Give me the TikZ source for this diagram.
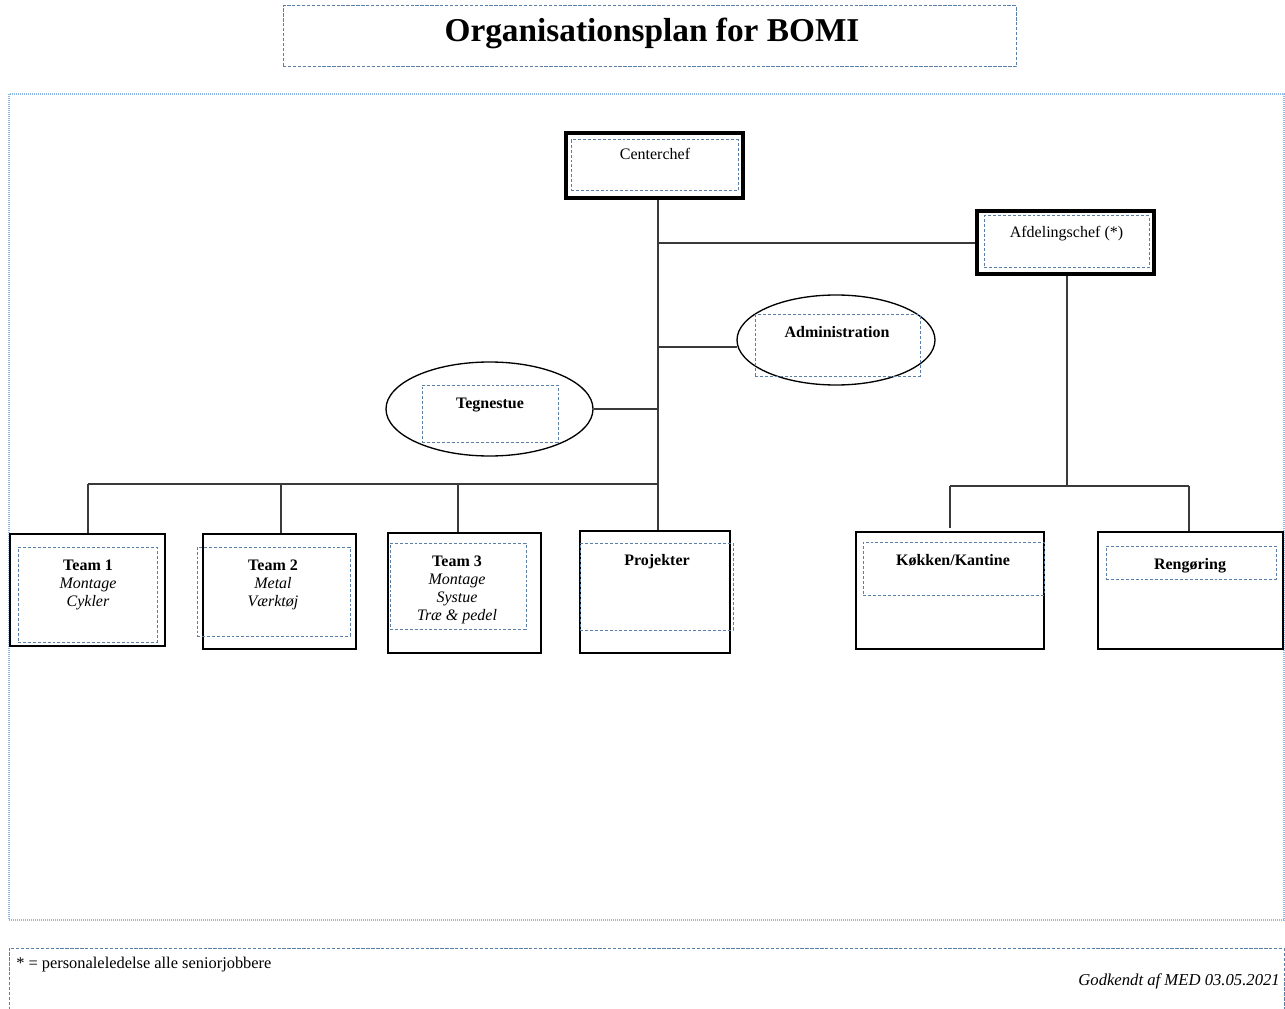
\documentclass[tikz,border=0pt]{standalone}
\usepackage{fontspec}
\setmainfont{Liberation Serif}
\usetikzlibrary{shapes.geometric}
\definecolor{dashblue}{HTML}{5B7EA6}
\definecolor{dotblue}{HTML}{8DB8E6}
\definecolor{linegray}{HTML}{3A3A3A}
\tikzset{
  sz/.style 2 args={minimum width=#1*0.75pt,minimum height=#2*0.75pt},
  box/.style={draw=black,line width=1.2pt,rectangle,inner sep=0pt},
  chiefbox/.style={draw=black,line width=3pt,rectangle,inner sep=0pt},
  inbox/.style={draw=dashblue,line width=0.75pt,dash pattern=on 2.2pt off 1.5pt,rectangle,inner sep=0pt},
  oval/.style={draw=black,line width=1pt,ellipse,inner sep=0pt},
  conn/.style={draw=linegray,line width=1.4pt},
  lbl/.style={inner sep=0pt,font=\fontsize{12}{13.5}\selectfont,align=center},
  blbl/.style={inner sep=0pt,font=\fontsize{12}{13.5}\selectfont\bfseries,align=center},
}
\begin{document}
\begin{tikzpicture}[x=0.75pt,y=-0.75pt]
\useasboundingbox (0,0) rectangle (1285,1009);

% title
\node[rectangle,draw=dashblue,line width=0.75pt,dash pattern=on 2.5pt off 1.2pt,inner sep=0pt,sz={733}{61}] (titlebox) at (649.5,36.5) {};
\node[anchor=base,inner sep=0pt,font=\fontsize{25}{30}\selectfont\bfseries] (title) at (652,42) {Organisationsplan for BOMI};

% outer frame
\node[draw=dotblue,line width=0.8pt,dash pattern=on 0.75pt off 0.75pt,rectangle,inner sep=0pt,sz={1275}{826}] (frame) at (646.5,507) {};

% chiefs
\node[chiefbox,sz={177}{65}] (cc) at (654.5,165.5) {};
\node[inbox,sz={167}{51}] (ccin) at (654.5,165.5) {};
\node[lbl,anchor=base] (cct) at (655,159.5) {Centerchef};

\node[chiefbox,sz={177}{63}] (ac) at (1065.5,242.5) {};
\node[inbox,sz={165}{52}] (acin) at (1066.5,242) {};
\node[lbl,anchor=base] (act) at (1066.5,237.5) {Afdelingschef (*)};

% ellipses
\node[oval,sz={198}{90}] (adm) at (836,340) {};
\node[inbox,sz={165}{61}] (admin) at (837.5,345.5) {};
\node[blbl,anchor=base] (admt) at (837,337.5) {Administration};

\node[oval,sz={207}{94}] (teg) at (489.5,409) {};
\node[inbox,sz={136}{57}] (tegin) at (490,413.5) {};
\node[blbl,anchor=base] (tegt) at (490,408) {Tegnestue};

% bottom boxes
\node[box,sz={155}{112}] (t1) at (87.5,590) {};
\node[inbox,sz={139}{95}] (t1in) at (87.5,594.5) {};
\node[lbl,anchor=north] (t1t) at (88,559.5) {\textbf{Team 1}\\\textit{Montage}\\\textit{Cykler}};

\node[box,sz={153}{115}] (t2) at (279.5,591.5) {};
\node[inbox,sz={153}{89}] (t2in) at (273.5,591.5) {};
\node[lbl,anchor=north] (t2t) at (273,559.5) {\textbf{Team 2}\\\textit{Metal}\\\textit{Værktøj}};

\node[box,sz={153}{120}] (t3) at (464.5,593) {};
\node[inbox,sz={136}{86}] (t3in) at (458,586) {};
\node[lbl,anchor=north] (t3t) at (457,555.5) {\textbf{Team 3}\\\textit{Montage}\\\textit{Systue}\\\textit{Træ \& pedel}};

\node[box,sz={150}{122}] (pj) at (655,592) {};
\node[inbox,sz={153}{87}] (pjin) at (656.5,586.5) {};
\node[blbl,anchor=base] (pjt) at (657,565.5) {Projekter};

\node[box,sz={188}{117}] (kk) at (950,590.5) {};
\node[inbox,sz={181}{53}] (kkin) at (953.5,568.5) {};
\node[blbl,anchor=base] (kkt) at (953,565.5) {Køkken/Kantine};

\node[box,sz={185}{117}] (rg) at (1190.5,590.5) {};
\node[inbox,sz={170}{33}] (rgin) at (1191,562.5) {};
\node[blbl,anchor=base] (rgt) at (1190,569.5) {Rengøring};

% junction coordinates
\coordinate (j1) at (658,243);
\coordinate (b0) at (658,484);
\coordinate (d1) at (88,484);
\coordinate (d2) at (281,484);
\coordinate (d3) at (458,484);
\coordinate (k0) at (1067,486);
\coordinate (k1) at (950,486);
\coordinate (k2) at (1189,486);
\coordinate (k3) at (950,528);

% connectors
\draw[conn] (cc.south -| j1) -- (pj.north -| j1);
\draw[conn] (j1) -- (j1 -| ac.west);
\draw[conn] (adm.184) -- (adm.184 -| j1);
\draw[conn] (teg.east) -- (teg.east -| j1);
\draw[conn] (d1) -- (b0);
\draw[conn] (d1) -- (d1 |- t1.north);
\draw[conn] (d2) -- (d2 |- t2.north);
\draw[conn] (d3) -- (d3 |- t3.north);
\draw[conn] (ac.south -| k0) -- (k0);
\draw[conn] (k1) -- (k2);
\draw[conn] (k1) -- (k3);
\draw[conn] (k2) -- (k2 |- rg.north);

% footer
\draw[draw=dashblue,line width=0.75pt,dash pattern=on 2.5pt off 1.2pt] (9,1010) -- (9,948) -- (1284,948) -- (1284,1010);
\node[anchor=base west,inner sep=0pt,font=\fontsize{12.3}{14}\selectfont] (note) at (16,968) {* = personaleledelse alle seniorjobbere};
\node[anchor=base east,inner sep=0pt,font=\fontsize{12.5}{14}\selectfont\itshape] (approved) at (1280,985) {Godkendt af MED 03.05.2021};
\end{tikzpicture}
\end{document}
